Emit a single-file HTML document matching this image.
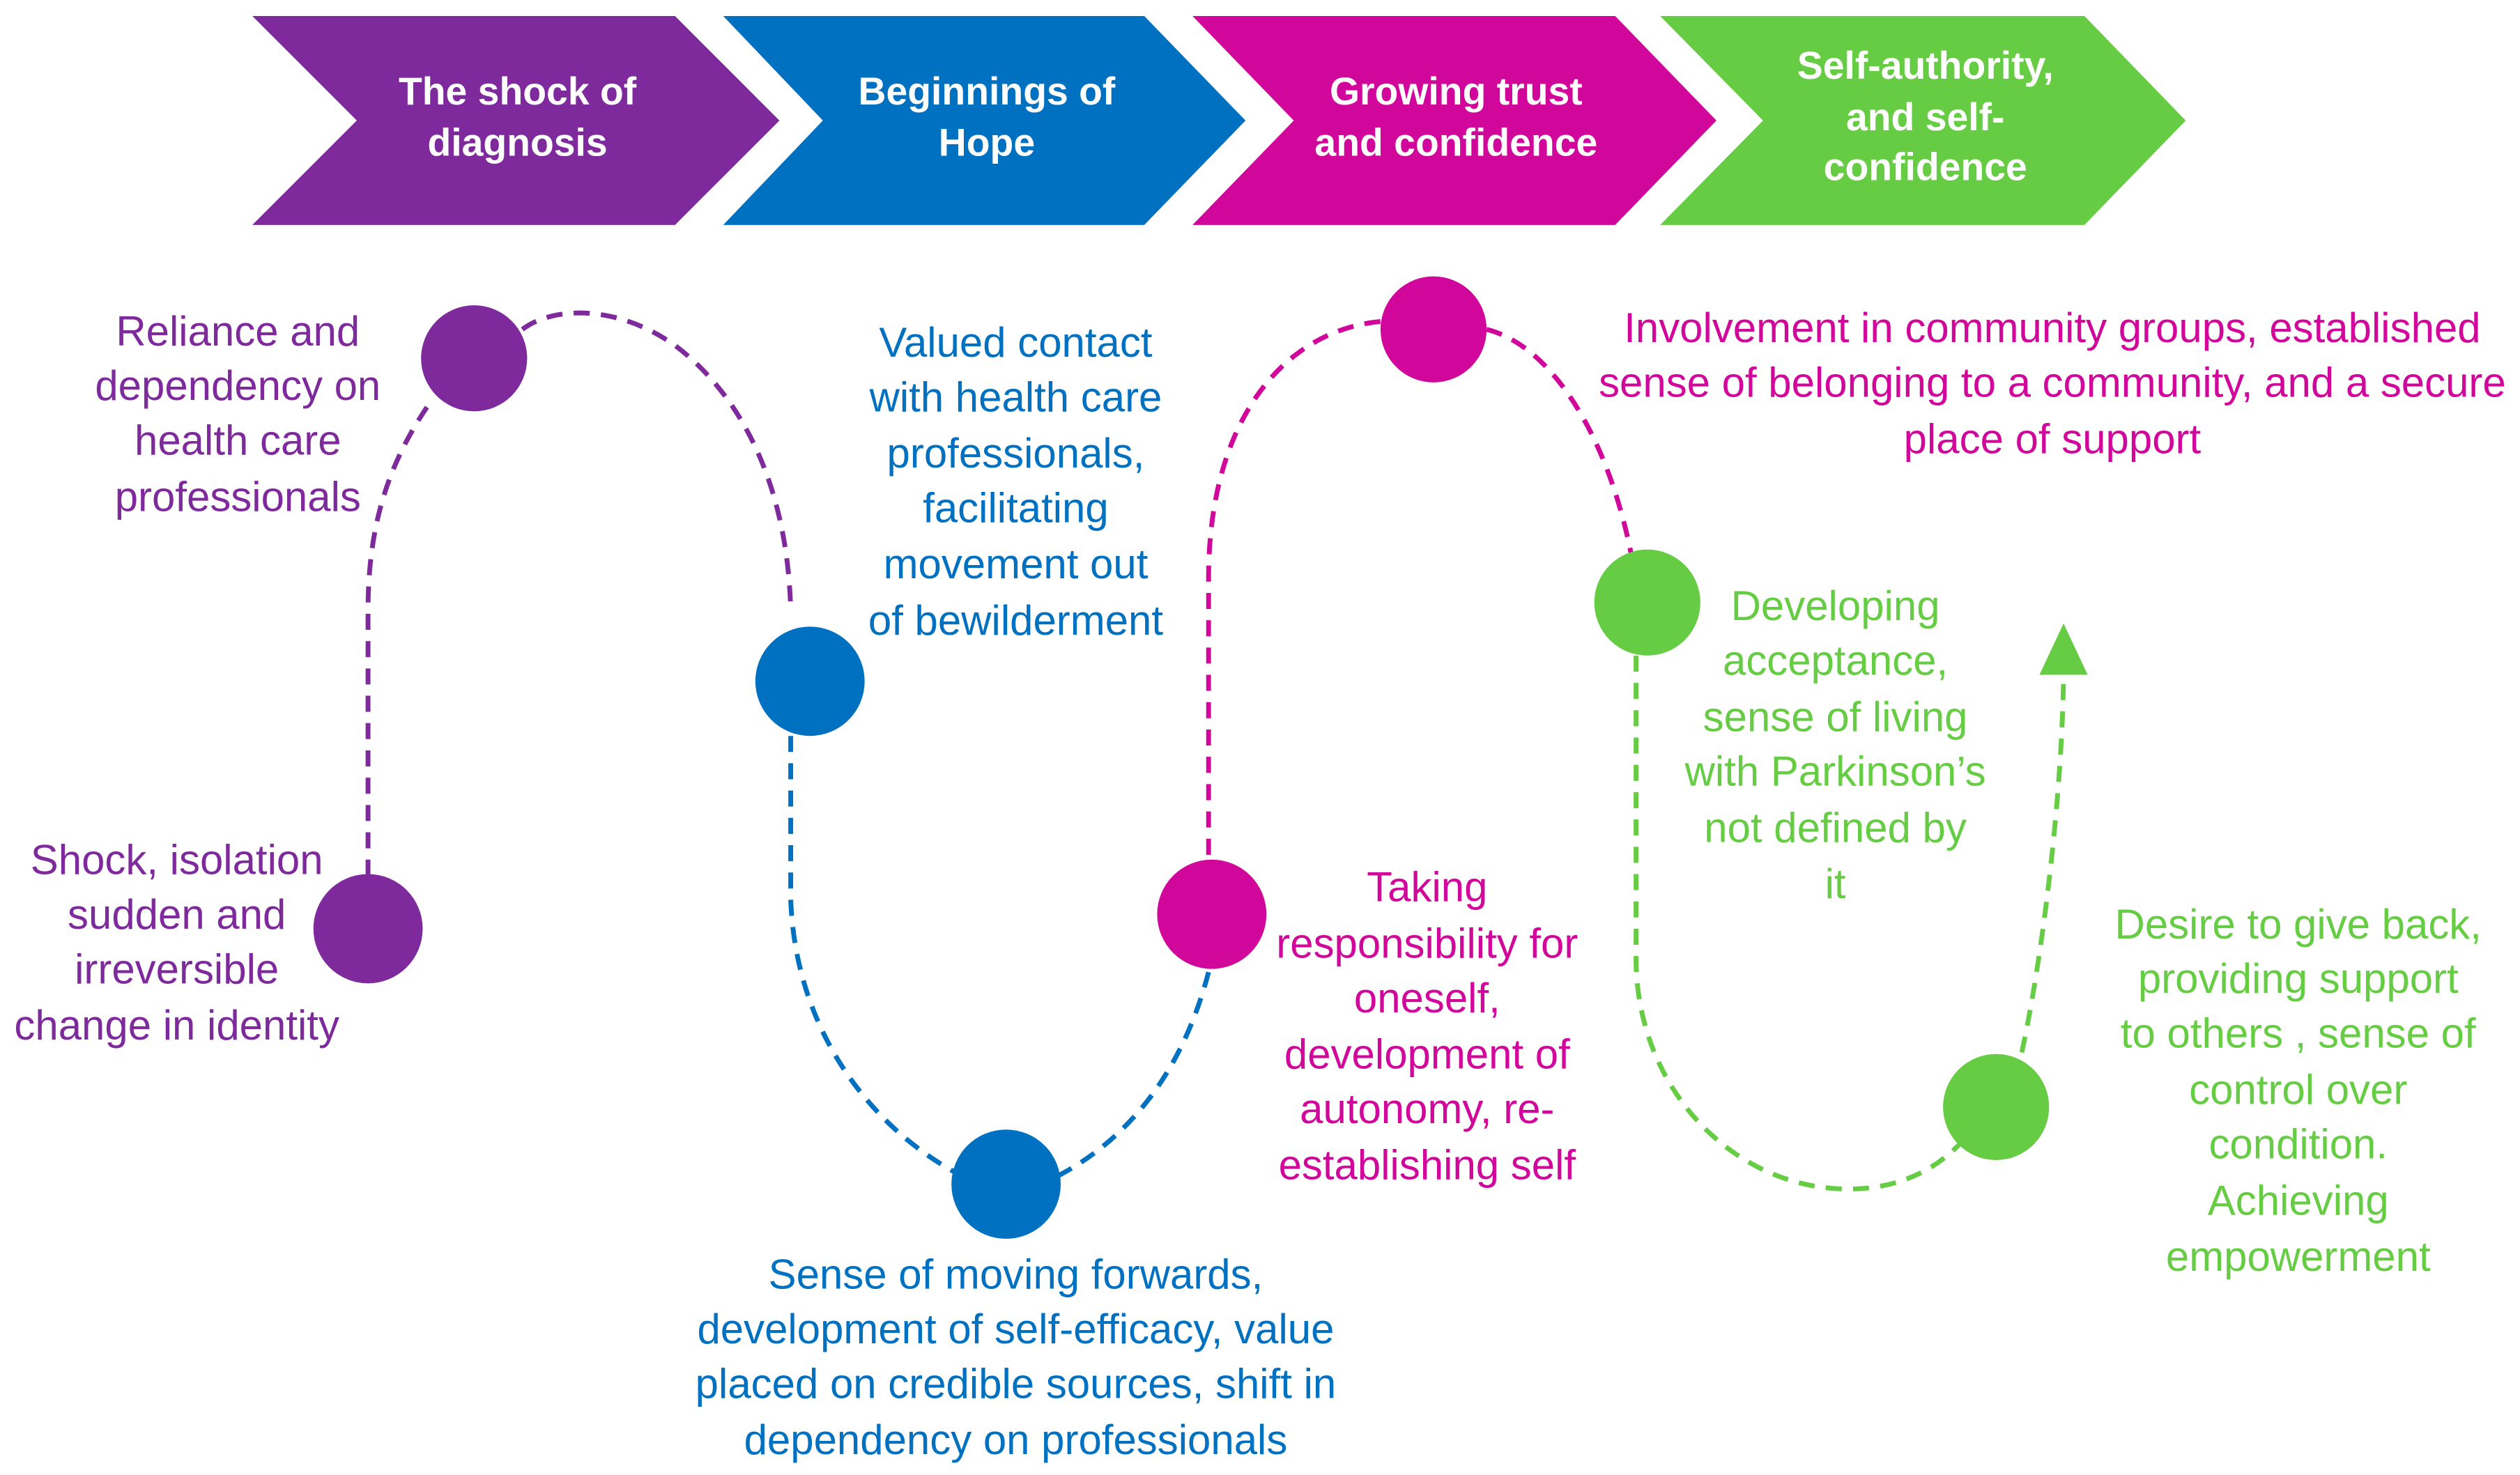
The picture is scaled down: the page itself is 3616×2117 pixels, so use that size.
<!DOCTYPE html>
<html><head><meta charset="utf-8"><style>
html,body{margin:0;padding:0;background:#fff;}
svg{display:block;}
text{font-family:"Liberation Sans",sans-serif;font-size:26px;text-anchor:middle;}
.h{fill:#fff;font-weight:bold;font-size:24px;}
.p{fill:#7f2a9c}.b{fill:#0070c0}.k{fill:#d1069a}.g{fill:#66cc44}
</style></head><body>
<svg width="3616" height="2117" viewBox="0 0 1568 918" preserveAspectRatio="none" xmlns="http://www.w3.org/2000/svg">
<rect width="1568" height="918" fill="#fff"/>
<polygon points="157,10 420,10 485,75 420,140 157,140 222,75" fill="#7f2a9c"/>
<polygon points="450,10 712,10 775,75 712,140 450,140 512,75" fill="#0070c0"/>
<polygon points="742,10 1005,10 1068,75 1005,140 742,140 805,75" fill="#d1069a"/>
<polygon points="1033,10 1297,10 1360,75 1297,140 1033,140 1097,75" fill="#66cc44"/>
<text class="h" x="322" y="65">The shock of</text><text class="h" x="322" y="97">diagnosis</text>
<text class="h" x="614" y="65">Beginnings of</text><text class="h" x="614" y="97">Hope</text>
<text class="h" x="906" y="65">Growing trust</text><text class="h" x="906" y="97">and confidence</text>
<text class="h" x="1198" y="49">Self-authority,</text><text class="h" x="1198" y="81">and self-</text><text class="h" x="1198" y="112">confidence</text>

<g fill="none" stroke-width="3" stroke-dasharray="10,7">
<path d="M229,545 L229,380 C229,330 240,290 268,250" stroke="#7f2a9c"/>
<path d="M325,205 C345,190 385,190 420,215 C460,245 490,300 492,380" stroke="#7f2a9c"/>
<path d="M492,458 L492,560 C495,640 540,700 595,730" stroke="#0070c0"/>
<path d="M658,732 C700,710 735,670 752,605" stroke="#0070c0"/>
<path d="M752,532 L752,360 C752,260 800,205 860,200" stroke="#d1069a"/>
<path d="M925,205 C965,215 1000,270 1015,345" stroke="#d1069a"/>
<path d="M1018,408 L1018,600 C1020,680 1080,740 1150,740 C1200,740 1230,710 1245,670" stroke="#66cc44"/>
<path d="M1258,655 C1270,600 1283,500 1284,420" stroke="#66cc44"/>
</g>
<polygon points="1269,420 1299,420 1284,388" fill="#66cc44"/>

<circle cx="295" cy="223" r="33" fill="#7f2a9c"/>
<circle cx="229" cy="578" r="34" fill="#7f2a9c"/>
<circle cx="504" cy="424" r="34" fill="#0070c0"/>
<circle cx="626" cy="737" r="34" fill="#0070c0"/>
<circle cx="892" cy="205" r="33" fill="#d1069a"/>
<circle cx="754" cy="569" r="34" fill="#d1069a"/>
<circle cx="1025" cy="375" r="33" fill="#66cc44"/>
<circle cx="1242" cy="689" r="33" fill="#66cc44"/>

<g class="p">
<text x="148" y="215">Reliance and</text><text x="148" y="249">dependency on</text><text x="148" y="283">health care</text><text x="148" y="318">professionals</text>
<text x="110" y="544">Shock, isolation</text><text x="110" y="578">sudden and</text><text x="110" y="612">irreversible</text><text x="110" y="647">change in identity</text>
</g>
<g class="b">
<text x="632" y="222">Valued contact</text><text x="632" y="256">with health care</text><text x="632" y="291">professionals,</text><text x="632" y="325">facilitating</text><text x="632" y="360">movement out</text><text x="632" y="395">of bewilderment</text>
<text x="632" y="802">Sense of moving forwards,</text><text x="632" y="836">development of self-efficacy, value</text><text x="632" y="870">placed on credible sources, shift in</text><text x="632" y="905">dependency on professionals</text>
</g>
<g class="k">
<text x="1277" y="213">Involvement in community groups, established</text><text x="1277" y="247">sense of belonging to a community, and a secure</text><text x="1277" y="282">place of support</text>
<text x="888" y="561">Taking</text><text x="888" y="596">responsibility for</text><text x="888" y="630">oneself,</text><text x="888" y="665">development of</text><text x="888" y="699">autonomy, re-</text><text x="888" y="734">establishing self</text>
</g>
<g class="g">
<text x="1142" y="386">Developing</text><text x="1142" y="420">acceptance,</text><text x="1142" y="455">sense of living</text><text x="1142" y="489">with Parkinson’s</text><text x="1142" y="524">not defined by</text><text x="1142" y="559">it</text>
<text x="1430" y="584">Desire to give back,</text><text x="1430" y="618">providing support</text><text x="1430" y="652">to others , sense of</text><text x="1430" y="687">control over</text><text x="1430" y="721">condition.</text><text x="1430" y="756">Achieving</text><text x="1430" y="791">empowerment</text>
</g>
</svg>
</body></html>
